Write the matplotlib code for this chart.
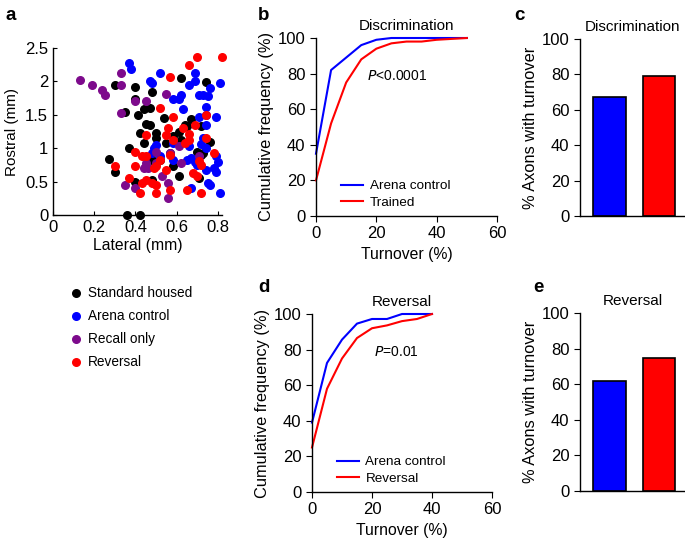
import numpy as np
import matplotlib
matplotlib.use("Agg")
from matplotlib import pyplot as plt

plt.rcParams['font.family'] = ['Liberation Sans', 'DejaVu Sans']
plt.rcParams['font.size'] = 10
plt.rcParams['axes.linewidth'] = 1.0

# ---- panel a: axon positions (mm)
std_x = [0.30, 0.40, 0.40, 0.44, 0.47, 0.41, 0.35, 0.48, 0.62, 0.74, 0.54, 0.67, 0.45, 0.47,
         0.42, 0.50, 0.50, 0.61, 0.64, 0.65, 0.72, 0.76, 0.37, 0.44, 0.58, 0.55, 0.62, 0.70,
         0.73, 0.27, 0.30, 0.48, 0.52, 0.58, 0.61, 0.71, 0.40, 0.48, 0.36, 0.42, 0.72, 0.57]
std_y = [1.95, 1.92, 1.74, 1.59, 1.60, 1.50, 1.54, 1.84, 2.05, 1.99, 1.45, 1.44, 1.36, 1.34,
         1.23, 1.23, 1.15, 1.25, 1.35, 1.33, 1.33, 1.10, 1.00, 1.08, 1.18, 1.08, 1.13, 0.95,
         0.93, 0.84, 0.65, 0.83, 0.83, 0.73, 0.58, 0.55, 0.50, 0.53, 0.00, 0.00, 0.90, 0.93]
arena_x = [0.37, 0.38, 0.47, 0.48, 0.52, 0.69, 0.69, 0.71, 0.73, 0.75, 0.76, 0.81, 0.58, 0.61,
           0.62, 0.63, 0.66, 0.74, 0.74, 0.71, 0.79, 0.74, 0.50, 0.49, 0.48, 0.66, 0.72, 0.74,
           0.79, 0.80, 0.78, 0.79, 0.65, 0.67, 0.69, 0.70, 0.74, 0.75, 0.76, 0.81, 0.67, 0.58,
           0.52, 0.73, 0.58]
arena_y = [2.27, 2.19, 2.01, 1.98, 2.12, 2.00, 2.13, 1.80, 1.79, 1.78, 1.90, 1.98, 1.73, 1.73,
           1.79, 1.58, 1.94, 1.62, 1.50, 1.47, 1.47, 1.34, 1.05, 1.00, 0.93, 1.03, 1.07, 1.00,
           0.88, 0.80, 0.70, 0.65, 0.83, 0.85, 0.80, 0.75, 0.68, 0.48, 0.45, 0.33, 0.40, 0.83,
           0.88, 1.15, 1.08]
recall_x = [0.13, 0.19, 0.24, 0.25, 0.33, 0.33, 0.33, 0.40, 0.45, 0.55, 0.61, 0.50, 0.45, 0.46,
            0.53, 0.56, 0.62, 0.35, 0.40, 0.56, 0.57, 0.50, 0.71, 0.44]
recall_y = [2.02, 1.94, 1.87, 1.80, 2.12, 1.94, 1.52, 1.70, 1.70, 1.81, 1.04, 0.95, 0.78, 0.71,
            0.58, 0.48, 0.78, 0.45, 0.40, 0.25, 0.93, 0.78, 0.88, 0.70]
rev_x = [0.70, 0.82, 0.66, 0.57, 0.52, 0.58, 0.69, 0.74, 0.63, 0.56, 0.66, 0.45, 0.55, 0.58,
         0.66, 0.74, 0.64, 0.40, 0.45, 0.43, 0.57, 0.78, 0.71, 0.72, 0.52, 0.30, 0.40, 0.50,
         0.49, 0.55, 0.68, 0.70, 0.37, 0.45, 0.48, 0.50, 0.43, 0.57, 0.65, 0.42, 0.50, 0.72]
rev_y = [2.37, 2.37, 2.25, 2.06, 1.60, 1.46, 1.34, 1.50, 1.30, 1.30, 1.22, 1.20, 1.20, 1.13,
         1.13, 1.15, 1.08, 0.95, 0.88, 0.88, 0.90, 0.93, 0.81, 0.75, 0.83, 0.73, 0.73, 0.73,
         0.70, 0.68, 0.63, 0.58, 0.55, 0.53, 0.48, 0.45, 0.48, 0.38, 0.38, 0.33, 0.33, 0.33]

# ---- panels b and d: cumulative frequency of turnover
turn_b_arena = [0, 5, 10, 15, 20, 25, 50]
cum_b_arena = [35, 82, 89, 96, 99, 100, 100]
turn_b_trained = [0, 5, 10, 15, 20, 25, 30, 35, 40, 50]
cum_b_trained = [20, 52, 75, 88, 94, 97, 98, 98, 99, 100]

turn_d = [0, 5, 10, 15, 20, 25, 30, 35, 40]
cum_d_arena = [39, 72.5, 85.6, 94.6, 97.2, 97.2, 100, 100, 100]
cum_d_rev = [25, 58, 75, 86.5, 92, 93.6, 96, 97.2, 100]

# ---- panels c and e: % axons with turnover
bar_c = [67, 79]
bar_e = [62, 75]

BLUE = '#0000ff'
RED = '#ff0000'
PURPLE = '#7d0a8c'
TICK = 12
LAB = 11.8

fig = plt.figure(figsize=(6.85, 5.42), dpi=100)
W, H = 685.0, 542.0

def ax_px(l, r, b, t):
    return fig.add_axes([l / W, 1 - b / H, (r - l) / W, (b - t) / H])

def clean(ax):
    ax.spines['top'].set_visible(False)
    ax.spines['right'].set_visible(False)

# a
axa = ax_px(53, 222, 215, 48)
clean(axa)
s = 30
axa.scatter(std_x, std_y, s=s, color='black', zorder=3, clip_on=False, label='Standard housed')
axa.scatter(arena_x, arena_y, s=s, color=BLUE, zorder=3, clip_on=False, label='Arena control')
axa.scatter(recall_x, recall_y, s=s, color=PURPLE, zorder=3, clip_on=False, label='Recall only')
axa.scatter(rev_x, rev_y, s=s, color=RED, zorder=3, clip_on=False, label='Reversal')
axa.set_xlim(0, 0.82)
axa.set_ylim(0, 2.5)
axa.set_xticks([0, 0.2, 0.4, 0.6, 0.8], ['0', '0.2', '0.4', '0.6', '0.8'])
axa.set_yticks([0, 0.5, 1, 1.5, 2, 2.5], ['0', '0.5', '1', '1.5', '2', '2.5'])
axa.tick_params(direction='in', length=3, labelsize=TICK)
axa.set_xlabel('Lateral (mm)', fontsize=11.3, labelpad=2)
axa.set_ylabel('Rostral (mm)', fontsize=11)

handles, labels = axa.get_legend_handles_labels()
fig.legend(handles, labels, loc='upper left', bbox_to_anchor=(72 / W, 1 - 286 / H),
           frameon=False, scatterpoints=1, handlelength=0.6, handletextpad=0.55,
           borderpad=0, borderaxespad=0, labelspacing=0.65, fontsize=9.8)

# b
axb = ax_px(316, 497, 216, 38)
clean(axb)
axb.plot(turn_b_arena, cum_b_arena, color=BLUE, lw=1.5, label='Arena control', clip_on=False)
axb.plot(turn_b_trained, cum_b_trained, color=RED, lw=1.5, label='Trained', clip_on=False)
axb.set_xlim(0, 60)
axb.set_ylim(0, 100)
axb.set_xticks([0, 20, 40, 60])
axb.set_yticks([0, 20, 40, 60, 80, 100])
axb.tick_params(direction='out', length=4, labelsize=TICK)
axb.set_xlabel('Turnover (%)', fontsize=11.3)
axb.set_ylabel('Cumulative frequency (%)', fontsize=LAB, labelpad=3)
axb.set_title('Discrimination', fontsize=11, pad=6)
axb.text(17, 78.5, '$\\it{P}$<0.0001', fontsize=10, va='center')
axb.legend(loc='lower left', bbox_to_anchor=(0.14, 0.04), frameon=False, handlelength=1.6,
           handletextpad=0.5, borderpad=0, borderaxespad=0, labelspacing=0.3, fontsize=9.7)

# c
axc = ax_px(580, 685, 216, 39)
clean(axc)
axc.bar([0, 1], bar_c, width=0.67, color=[BLUE, RED], edgecolor='black', linewidth=1.2)
axc.set_xlim(-0.61, 1.53)
axc.set_ylim(0, 100)
axc.set_xticks([])
axc.set_yticks([0, 20, 40, 60, 80, 100])
axc.tick_params(direction='out', length=4, labelsize=TICK)
axc.set_ylabel('% Axons with turnover', fontsize=LAB, labelpad=3)
axc.set_title('Discrimination', fontsize=11, pad=6)

# d
axd = ax_px(312, 492, 492, 314)
clean(axd)
axd.plot(turn_d, cum_d_arena, color=BLUE, lw=1.5, label='Arena control', clip_on=False)
axd.plot(turn_d, cum_d_rev, color=RED, lw=1.5, label='Reversal', clip_on=False)
axd.set_xlim(0, 60)
axd.set_ylim(0, 100)
axd.set_xticks([0, 20, 40, 60])
axd.set_yticks([0, 20, 40, 60, 80, 100])
axd.tick_params(direction='out', length=4, labelsize=TICK)
axd.set_xlabel('Turnover (%)', fontsize=11.3)
axd.set_ylabel('Cumulative frequency (%)', fontsize=LAB, labelpad=3)
axd.set_title('Reversal', fontsize=11, pad=6)
axd.text(20.7, 78.5, '$\\it{P}$=0.01', fontsize=10, va='center')
axd.legend(loc='lower left', bbox_to_anchor=(0.14, 0.04), frameon=False, handlelength=1.6,
           handletextpad=0.5, borderpad=0, borderaxespad=0, labelspacing=0.3, fontsize=9.7)

# e
axe = ax_px(580, 685, 491, 313)
clean(axe)
axe.bar([0, 1], bar_e, width=0.67, color=[BLUE, RED], edgecolor='black', linewidth=1.2)
axe.set_xlim(-0.61, 1.53)
axe.set_ylim(0, 100)
axe.set_xticks([])
axe.set_yticks([0, 20, 40, 60, 80, 100])
axe.tick_params(direction='out', length=4, labelsize=TICK)
axe.set_ylabel('% Axons with turnover', fontsize=LAB, labelpad=3)
axe.set_title('Reversal', fontsize=11, pad=6)

# panel letters
for letter, x, y in [('a', 5, 15), ('b', 258, 15), ('c', 514, 15), ('d', 258, 288), ('e', 533, 288)]:
    fig.text(x / W, 1 - y / H, letter, fontsize=13.5, fontweight='bold', va='center', ha='left')

fig.savefig('out.png', dpi=100)
